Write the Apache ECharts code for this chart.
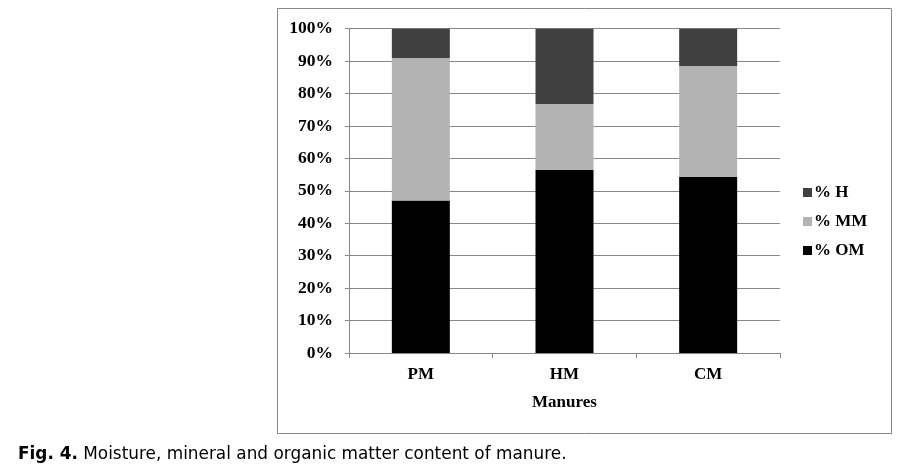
<!DOCTYPE html>
<html>
<head>
<meta charset="utf-8">
<script src="https://cdn.jsdelivr.net/npm/echarts@6/dist/echarts.min.js"></script>
<style>
html,body{margin:0;padding:0;background:#fff;}
#chart{width:914px;height:471px;}
</style>
</head>
<body>
<div id="chart"></div>
<script>
const categories = ['PM', 'HM', 'CM'];
const seriesNames = ['% OM', '% MM', '% H'];
const omValues = [47, 56.4, 54.3];
const mmValues = [44, 20.4, 34.2];
const hValues = [9, 23.2, 11.5];
const yTicks = [0, 10, 20, 30, 40, 50, 60, 70, 80, 90, 100];

const serif = '"Liberation Serif", "Times New Roman", serif';
const chart = echarts.init(document.getElementById('chart'));
const colors = ['#000000', '#b3b3b3', '#404040'];
const dataSets = [omValues, mmValues, hValues];

chart.setOption({
  animation: false,
  backgroundColor: '#ffffff',
  graphic: [{
    type: 'rect',
    shape: { x: 277.5, y: 8.5, width: 614, height: 425 },
    style: { fill: 'none', stroke: '#888888', lineWidth: 1 },
    z: -1
  }],
  title: {
    text: '{b|Fig. 4.} Moisture, mineral and organic matter content of manure.',
    left: 13, top: 441,
    textStyle: {
      fontFamily: '"DejaVu Sans", Verdana, sans-serif',
      fontSize: 16.9, fontWeight: 'normal', color: '#000',
      rich: {
        b: { fontFamily: '"DejaVu Sans", Verdana, sans-serif', fontSize: 16.9, fontWeight: 'bold', color: '#000' }
      }
    }
  },
  legend: {
    orient: 'vertical',
    left: 798, top: 179,
    itemWidth: 9, itemHeight: 9, itemGap: 12,
    icon: 'rect',
    data: ['% H', '% MM', '% OM'],
    textStyle: { fontFamily: serif, fontWeight: 'bold', fontSize: 17, color: '#000', padding: [0, 0, 0, -3] }
  },
  grid: { left: 349, right: 134, top: 28.7, bottom: 118, containLabel: false },
  xAxis: {
    type: 'category',
    data: categories,
    name: 'Manures',
    nameLocation: 'middle',
    nameGap: 41,
    nameTextStyle: { fontFamily: serif, fontWeight: 'bold', fontSize: 17, color: '#000' },
    axisLine: { lineStyle: { color: '#888888' } },
    axisTick: { show: true, length: 5, lineStyle: { color: '#888888' } },
    axisLabel: { fontFamily: serif, fontWeight: 'bold', fontSize: 17, color: '#000', margin: 13 }
  },
  yAxis: {
    type: 'value',
    min: yTicks[0], max: yTicks[yTicks.length - 1], interval: 10,
    axisLine: { show: true, lineStyle: { color: '#888888' } },
    axisTick: { show: true, length: 4, lineStyle: { color: '#888888' } },
    splitLine: { lineStyle: { color: '#888888', width: 1 } },
    axisLabel: { formatter: '{value}%', fontFamily: serif, fontWeight: 'bold', fontSize: 17.5, color: '#000', margin: 16 }
  },
  series: seriesNames.map((n, i) => ({
    name: n,
    type: 'bar',
    stack: 'total',
    barWidth: 58,
    itemStyle: { color: colors[i] },
    data: dataSets[i]
  }))
});
</script>
</body>
</html>
